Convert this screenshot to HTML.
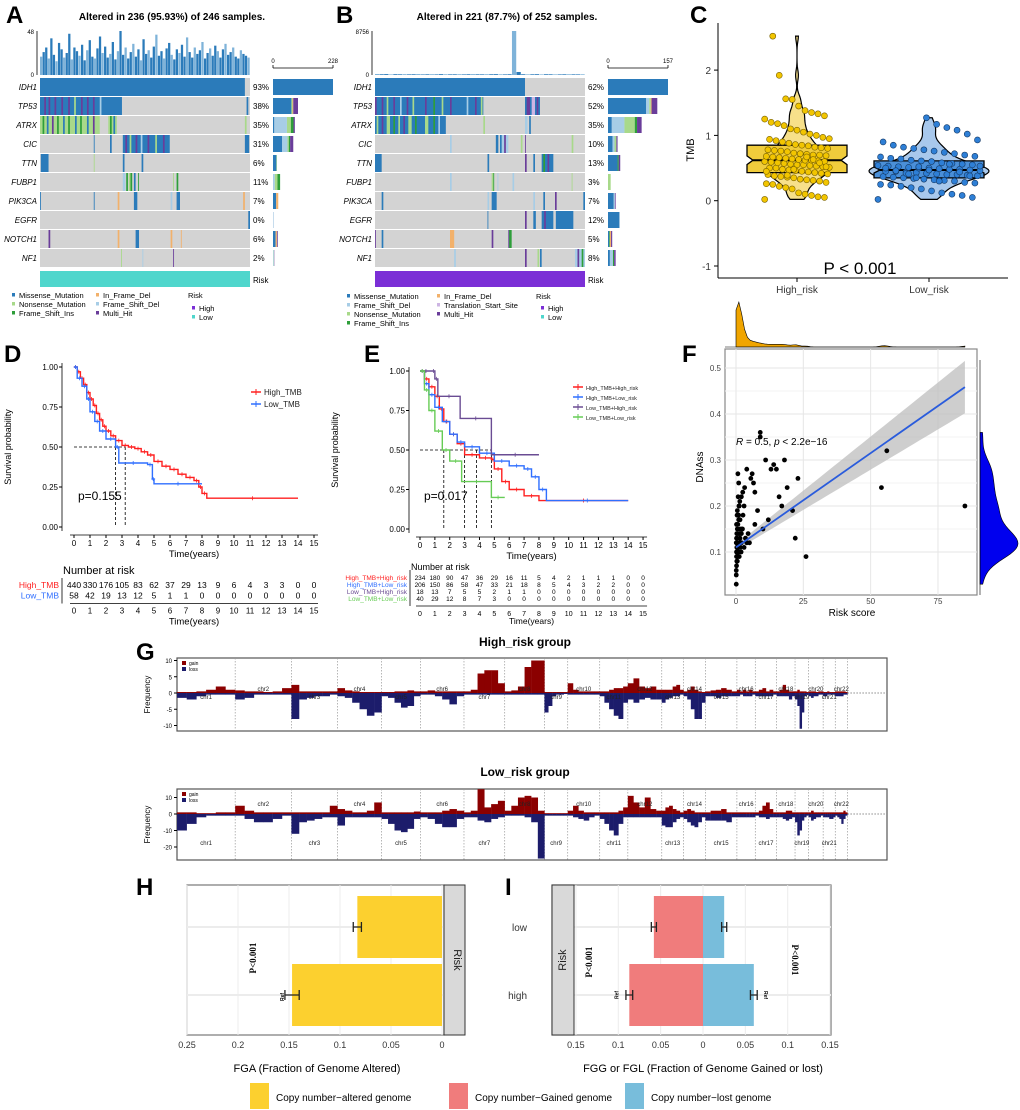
<!DOCTYPE html>
<html><head><meta charset="utf-8">
<style>
html,body{margin:0;padding:0;background:#fff;}
svg{display:block;font-family:"Liberation Sans",Arial,sans-serif;}
</style></head>
<body>
<svg id="fig" width="1020" height="1110" viewBox="0 0 1020 1110" xmlns="http://www.w3.org/2000/svg"></svg>
<script>
// ================= DATA =================
const genes=['IDH1','TP53','ATRX','CIC','TTN','FUBP1','PIK3CA','EGFR','NOTCH1','NF1'];
const pctA=['93%','38%','35%','31%','6%','11%','7%','0%','6%','2%'];
const pctB=['62%','52%','35%','10%','13%','3%','7%','12%','5%','8%'];
const topA=[20,25,30,18,40,22,15,35,28,19,24,45,17,30,26,21,33,16,27,38,20,18,29,42,24,31,19,23,36,17,26,48,22,30,18,25,34,20,28,16,39,23,27,19,31,44,21,26,18,29,35,22,17,28,24,33,20,41,25,19,30,23,27,36,18,24,29,21,32,26,19,28,34,22,25,30,20,18,27,23,21,19];
const topB=[200,150,180,120,160,140,170,130,150,190,110,140,160,120,170,150,130,140,160,120,150,180,140,130,160,150,170,140,120,150,8756,600,150,130,140,160,120,150,140,130,120,140,150,130,120,140];
const segsA=[
 [[0,240,'M']],
 [[0,96,'M'],[5,7,'H'],[10,12,'H'],[17,19,'H'],[25,27,'H'],[33,35,'H'],[40,42,'N'],[48,50,'H'],[55,57,'H'],[62,64,'H'],[70,72,'D'],[242,244,'M']],
 [[0,70,'N'],[3,5,'I'],[8,10,'M'],[14,16,'H'],[20,22,'I'],[27,29,'M'],[33,35,'I'],[41,43,'M'],[47,49,'I'],[55,57,'M'],[62,64,'H'],[80,90,'N'],[82,84,'I'],[86,88,'M'],[240,242,'N']],
 [[63,64,'M'],[82,84,'M'],[97,152,'M'],[100,102,'H'],[105,107,'N'],[112,114,'H'],[118,120,'D'],[126,128,'H'],[135,137,'N'],[144,146,'H'],[240,245,'M']],
 [[1,10,'M'],[63,64,'N'],[97,99,'M'],[119,121,'M']],
 [[97,100,'D'],[101,103,'I'],[104,106,'N'],[106,108,'I'],[110,112,'M'],[115,116,'I'],[156,157,'N'],[160,162,'I']],
 [[0,1,'M'],[63,64,'M'],[91,93,'F'],[110,114,'M'],[153,155,'D'],[160,164,'M'],[238,240,'F']],
 [[244,246,'M']],
 [[10,12,'H'],[91,93,'F'],[112,116,'M'],[153,155,'F'],[165,166,'F']],
 [[95,96,'N'],[120,121,'D'],[156,157,'H']]
];
const segsB=[
 [[0,180,'M']],
 [[0,130,'M'],[0,2,'H'],[8,10,'H'],[14,16,'N'],[22,24,'H'],[30,32,'D'],[38,40,'H'],[45,47,'N'],[60,62,'H'],[70,72,'I'],[80,82,'N'],[90,92,'H'],[110,112,'D'],[120,122,'H'],[127,129,'N'],[180,198,'M'],[182,186,'H'],[188,192,'T'],[194,196,'H']],
 [[0,85,'M'],[2,4,'N'],[8,10,'H'],[14,18,'N'],[22,24,'I'],[28,30,'N'],[34,36,'H'],[40,44,'N'],[48,50,'I'],[60,64,'N'],[70,72,'I'],[76,78,'D'],[130,132,'N'],[180,183,'D'],[185,187,'M']],
 [[90,92,'D'],[145,148,'M'],[150,160,'D'],[150,152,'M'],[155,157,'H'],[175,177,'N'],[180,181,'H'],[236,238,'N']],
 [[0,8,'M'],[135,137,'M'],[180,182,'H'],[190,192,'M'],[200,214,'M'],[202,204,'I'],[207,209,'H']],
 [[90,92,'D'],[140,142,'N'],[142,143,'I'],[147,148,'D'],[165,167,'D'],[236,237,'N']],
 [[8,10,'M'],[135,137,'D'],[140,146,'M'],[190,192,'D'],[202,204,'M'],[216,218,'H'],[250,252,'M']],
 [[135,136,'M'],[180,182,'H'],[190,193,'M'],[200,214,'M'],[203,205,'H'],[217,238,'M']],
 [[0,1,'H'],[8,10,'M'],[90,95,'F'],[140,142,'H'],[160,162,'H'],[161,164,'I']],
 [[95,97,'D'],[180,182,'H'],[195,197,'N'],[198,200,'M'],[240,252,'D'],[243,245,'H'],[248,250,'I']]
];
const cntA=[{M:228},{M:70,N:4,F:3,H:18},{M:5,N:15,I:10,D:48,H:5},{M:35,I:5,N:5,D:20,H:12},{M:13,N:2},{N:10,I:10,D:7},{M:12,F:8},{M:1},{M:10,F:5,H:3},{D:3,N:1,H:1}];
const cntB=[{M:157},{M:100,D:8,N:4,F:2,H:15},{M:10,D:33,N:27,I:6,H:12},{M:12,D:5,N:5,H:3},{M:25,I:3,H:4},{N:7},{M:15,D:3,H:2},{M:30},{H:3,F:3,I:2,M:3},{D:8,M:5,I:3,H:4}];

const tmbHigh=[0.02,0.05,0.06,0.08,0.1,0.12,0.18,0.2,0.22,0.25,0.26,0.28,0.3,0.31,0.32,0.33,0.35,0.36,0.37,0.38,0.4,0.41,0.42,0.43,0.44,0.45,0.46,0.47,0.48,0.5,0.5,0.51,0.52,0.53,0.54,0.55,0.55,0.56,0.57,0.58,0.59,0.6,0.6,0.61,0.62,0.62,0.63,0.64,0.65,0.66,0.67,0.68,0.69,0.7,0.7,0.71,0.72,0.73,0.75,0.76,0.77,0.78,0.8,0.81,0.82,0.84,0.85,0.86,0.88,0.9,0.92,0.94,0.95,0.97,1.0,1.02,1.05,1.08,1.1,1.15,1.18,1.2,1.25,1.3,1.33,1.35,1.38,1.45,1.55,1.56,1.92,2.52,0.45,0.52,0.58,0.63,0.67,0.72,0.48,0.39];
const tmbLow=[0.02,0.05,0.08,0.1,0.12,0.15,0.18,0.2,0.22,0.24,0.25,0.27,0.28,0.3,0.31,0.32,0.33,0.34,0.35,0.36,0.37,0.38,0.39,0.4,0.4,0.41,0.42,0.43,0.44,0.45,0.45,0.46,0.47,0.48,0.48,0.49,0.5,0.5,0.51,0.52,0.53,0.54,0.55,0.56,0.57,0.58,0.6,0.61,0.62,0.64,0.65,0.67,0.68,0.7,0.72,0.74,0.76,0.78,0.8,0.82,0.85,0.9,0.93,1.02,1.08,1.12,1.17,1.27,0.35,0.42,0.46,0.5,0.53,0.38,0.44,0.56,0.3,0.47,0.52,0.41];

const dHighT=[0,0.2,0.4,0.6,0.8,1.0,1.2,1.4,1.6,1.8,2.0,2.3,2.6,3.0,3.4,3.8,4.2,4.6,5.0,5.5,6.0,6.5,7.0,7.5,7.8,8.0,8.3,14];
const dHighS=[1,0.97,0.93,0.89,0.84,0.8,0.76,0.71,0.67,0.63,0.6,0.57,0.54,0.51,0.5,0.49,0.47,0.45,0.41,0.38,0.36,0.33,0.31,0.29,0.25,0.21,0.18,0.18];
const dLowT=[0,0.2,0.5,0.8,1.0,1.3,1.6,2.0,2.6,2.8,4.6,4.9,5.0,8.0];
const dLowS=[1,0.93,0.88,0.8,0.72,0.66,0.6,0.55,0.5,0.4,0.39,0.3,0.27,0.27];
const dRiskHigh=[440,330,176,105,83,62,37,29,13,9,6,4,3,3,0,0];
const dRiskLow=[58,42,19,13,12,5,1,1,0,0,0,0,0,0,0,0];

const eRedT=[0,0.3,0.6,1.0,1.3,1.6,2.0,2.5,3.0,4.0,4.8,5.0,5.5,6.0,7.0,8.0,14];
const eRedS=[1,0.95,0.9,0.84,0.76,0.68,0.6,0.54,0.47,0.45,0.44,0.38,0.3,0.25,0.21,0.18,0.18];
const eBlueT=[0,0.3,0.6,1.0,1.5,2.0,2.5,3.0,4.0,5.0,6.0,7.0,7.5,8.0,8.5,14];
const eBlueS=[1,0.92,0.85,0.77,0.68,0.6,0.55,0.52,0.48,0.43,0.4,0.38,0.33,0.25,0.18,0.18];
const ePurpT=[0,0.8,1.0,1.2,2.7,4.8,8.0];
const ePurpS=[1,1,0.95,0.84,0.7,0.47,0.47];
const eGreenT=[0,0.3,0.6,1.0,1.5,2.0,2.8,4.8,5.7];
const eGreenS=[1,0.88,0.75,0.62,0.5,0.43,0.3,0.2,0.2];
const eRisk=[[234,180,90,47,36,29,16,11,5,4,2,1,1,1,0,0],[206,150,86,58,47,33,21,18,8,5,4,3,2,2,0,0],[18,13,7,5,5,2,1,1,0,0,0,0,0,0,0,0],[40,29,12,8,7,3,0,0,0,0,0,0,0,0,0,0]];

const riskScore=[0.1,0.2,0.3,0.4,0.5,0.6,0.8,1.0,1.2,1.5,0.1,0.2,0.3,0.4,0.5,0.7,0.9,1.1,1.3,1.6,0.1,0.2,0.3,0.5,0.6,0.8,1.0,1.4,1.8,2.2,0.2,0.3,0.4,0.6,0.7,0.9,1.2,1.6,2.0,2.6,0.1,0.3,0.5,0.8,1.1,1.5,2.0,2.5,3.0,3.5,0.2,0.4,0.7,1.0,1.4,1.9,2.4,3.2,4.0,4.5,5,5.5,6,6.5,7,8,9,10,11,12,13,14,15,16,17,18,19,21,22,23,9,26,54,56,85,4,3,2,1,7];
const dnass=[0.05,0.07,0.08,0.09,0.1,0.11,0.12,0.1,0.09,0.13,0.12,0.13,0.14,0.11,0.15,0.16,0.1,0.12,0.14,0.11,0.06,0.09,0.1,0.08,0.12,0.14,0.17,0.13,0.12,0.15,0.1,0.11,0.12,0.09,0.1,0.11,0.2,0.15,0.12,0.18,0.03,0.13,0.19,0.22,0.2,0.17,0.14,0.23,0.11,0.13,0.16,0.18,0.27,0.25,0.21,0.1,0.15,0.24,0.28,0.14,0.12,0.26,0.27,0.25,0.23,0.19,0.36,0.15,0.3,0.17,0.28,0.29,0.28,0.22,0.2,0.3,0.24,0.19,0.13,0.26,0.35,0.09,0.24,0.32,0.2,0.12,0.2,0.22,0.18,0.16];
const fitCoef=[0.11,0.0041];

const gainHigh=[[0.3,0.3,0.5,1,2,1],[0.8,0.5,0.5,0.3,0.5,1.5],[2.5,0.5,0.5,0.5,0.5,0.5],[1.5,0.8,0.5,0.3,0.3,0.3],[0.3,0.3,0.5,0.5,0.8,0.5],[0.5,0.8,0.5,0.5,0.5,0.5],[0.5,1,6,7,7,3],[0.5,0.8,2,8,10,10],[0.3,0.3,0.3,0.3,0.3,0.3],[3,1,0.5,0.5,0.5,0.5],[0.5,0.5,1,1.5,1.5,2],[3,4.5,2,1.5,2,1],[1,1,1,2,2.5,1],[0.5,1,2,1,0.5,0.3],[0.5,0.8,1,1.5,1,0.5],[1,0.5,1,0.5,1,0.5],[0.5,1,1.5,0.5,1,0.5],[0.5,1,2.5,1,0.5,0.5],[0.5,1,0.5,0.5,0.5,0.3],[0.5,0.5,0.5,0.3,0.5,0.5],[0.3,0.3,0.5,0.3,0.3,0.3],[0.5,0.5,0.5,0.5,0.5,0.3]];
const lossHigh=[[1.5,2,1,0.5,0.5,0.5],[2,1.5,0.5,0.5,0.5,0.5],[8,2,1.5,1,1,0.5],[1,1.5,3,5,7,6],[1,1.5,3,4.5,4,1],[0.5,0.5,1,2,3.5,1],[0.5,0.5,0.5,0.5,0.5,0.5],[0.5,0.5,0.5,0.5,0.5,0.5],[6,4,1,0.5,0.5,0.3],[0.5,0.5,0.5,0.5,0.5,0.5],[1,3,5,7,8,3],[2,3,2,1.5,2,2],[3,2,1.5,1,1,0.5],[1,2,5,8,8,3],[1,1,1.5,1,1,1],[1,0.5,1,1,1,0.5],[1,1,1,1,1,0.5],[1,1,1,1,2,1],[2,4,11,6,1,0.5],[1,1.5,1,1,0.5,0.5],[1,1,0.5,0.5,0.5,0.5],[1,1,1,1,0.5,0.5]];
const gainLow=[[1,1,0.5,0.5,1,1],[5,2,1,1,1,1],[1,1,1,1,1,5],[3,2,1,1,2,7],[1,1,1,1,1,1.5],[1,1,1,2,3,2],[1,2,15,4,6,8],[2,5,10,11,10,2],[0.5,0.5,0.5,0.5,0.5,0.5],[2,5,2,1,1,1],[1,1,1,1,2,4],[11,7,4,10,3,2],[2,4,5,3,2,1],[2,3,2,1,1,1],[1,2,2,3,1,1],[1,1,1,1,1,1],[1,2,5,7,3,1],[1,1,1,2,2,1],[1,1,1,1,1,1],[1,2,1,1,1,1],[1,1,1,1,1,1],[1,1,1,1,2,1]];
const lossLow=[[10,6,2,1,1,1],[1,3,5,5,3,1],[12,5,4,3,2,2],[7,2,2,2,2,2],[3,6,10,11,9,3],[2,3,6,8,8,3],[2,2,4,5,3,2],[1,1,1,2,5,27],[1,1,1,1,1,1],[1,2,3,4,2,1],[3,6,10,13,6,2],[2,2,2,2,2,2],[7,8,8,5,3,2],[3,5,7,8,5,2],[4,4,4,4,5,2],[2,2,2,2,2,2],[1,2,2,3,2,2],[2,2,3,4,3,2],[5,13,10,4,2,1],[2,4,3,2,2,1],[2,2,2,3,3,2],[1,2,3,6,3,1]];

const riskGroups=['low','high'];
const fgaVal=[0.083,0.147];
const fgaErr=[0.004,0.007];
const fggVal=[0.058,0.087];
const fglVal=[0.025,0.060];
const fgErr=[0.003,0.004];

// ================= HELPERS =================
const NS='http://www.w3.org/2000/svg';
const svg=document.getElementById('fig');
function mk(tag,attrs,parent){const e=document.createElementNS(NS,tag);for(const k in attrs)e.setAttribute(k,attrs[k]);(parent||svg).appendChild(e);return e;}
function txt(x,y,s,attrs,parent){const e=mk('text',Object.assign({x:x,y:y},attrs||{}),parent);e.textContent=s;return e;}
function grp(name){const g=mk('g',{});return g;}
const COL={M:'#2b7bba',N:'#a8d98a',I:'#2e9e3a',F:'#f2b16b',D:'#a7cde6',H:'#6a3d9a',T:'#cdb5e3'};

function label(ch,x,y){const t=txt(x,y,ch,{'font-size':24,'font-weight':'bold'});}

// ================= ONCOPRINT =================
function onco(key,x0,x1,n,segs,pcts,cnts,maxC,bx0,bx1,topVals,topMax,topLabel,title,titleX,riskCol,legend){
  const g=grp('oncoplot-'+key);
  const w=x1-x0;
  const tt=txt(titleX,20,title,{'font-size':10,'font-weight':'bold','text-anchor':'middle'},g);
  
  mk('line',{x1:x0-3,y1:31,x2:x0-3,y2:75,stroke:'#000','stroke-width':0.8},g);
  txt(x0-6,34,topLabel,{'font-size':6,'text-anchor':'end'},g);
  txt(x0-6,77,'0',{'font-size':6,'text-anchor':'end'},g);
  const bw=w/topVals.length;
  topVals.forEach((v,i)=>{
    const h=Math.min(v/topMax,1)*44;
    const b=mk('rect',{x:x0+i*bw,y:75-h,width:Math.max(bw-0.3,0.6),height:Math.max(h,0.3),fill:i%3==0?'#7fb3d9':'#2b7bba'},g);
    
    
  });
  genes.forEach((gn,r)=>{
    const y=78+r*19;
    mk('rect',{x:x0,y:y,width:w,height:18,fill:'#d3d3d3'},g);
    segs[r].forEach(s=>{
      const sr=mk('rect',{x:x0+s[0]*w/n,y:y,width:Math.max((s[1]-s[0])*w/n,0.8),height:18,fill:COL[s[2]]},g);
      
      
    });
    const gl=txt(x0-3,y+12,gn,{'font-size':8,'font-style':'italic','text-anchor':'end'},g);
    
    txt(x1+3,y+12,pcts[r],{'font-size':8},g);
    let cx=bx0;const bs=(bx1-bx0)/maxC;
    ['M','D','N','I','F','T','H'].forEach(k=>{
      if(cnts[r][k]){const rb=mk('rect',{x:cx,y:y+1,width:cnts[r][k]*bs,height:16,fill:COL[k]},g);
        
        
        cx+=cnts[r][k]*bs;}
    });
  });
  mk('line',{x1:bx0,y1:68,x2:bx1,y2:68,stroke:'#000','stroke-width':0.8},g);
  mk('line',{x1:bx0,y1:65,x2:bx0,y2:68,stroke:'#000','stroke-width':0.8},g);
  mk('line',{x1:bx1,y1:65,x2:bx1,y2:68,stroke:'#000','stroke-width':0.8},g);
  txt(bx0,63,'0',{'font-size':6,'text-anchor':'middle'},g);
  txt(bx1,63,String(maxC),{'font-size':6,'text-anchor':'middle'},g);
  const rk=mk('rect',{x:x0,y:271,width:w,height:16,fill:riskCol},g);
  
  
  txt(x1+3,283,'Risk',{'font-size':8},g);
  legend.forEach(it=>{
    mk('rect',{x:it[0],y:it[1]-5,width:3,height:3.5,fill:it[3]},g);
    const lt=txt(it[0]+7,it[1],it[2],{'font-size':7.5},g);
    
  });
}
label('A',6,23);
onco('a',40,250,246,segsA,pctA,cntA,228,273,333,topA,48,'48','Altered in 236 (95.93%) of 246 samples.',172,'#4fd6cc',
 [[12,298,'Missense_Mutation',COL.M],[12,307,'Nonsense_Mutation',COL.N],[12,316,'Frame_Shift_Ins',COL.I],[96,298,'In_Frame_Del',COL.F],[96,307,'Frame_Shift_Del',COL.D],[96,316,'Multi_Hit',COL.H],[192,311,'High','#7b2fd6'],[192,320,'Low','#4fd6cc']]);
txt(188,298,'Risk',{'font-size':7.5});
label('B',336,23);
onco('b',375,585,252,segsB,pctB,cntB,157,608,668,topB,8756,'8756','Altered in 221 (87.7%) of 252 samples.',507,'#7b2fd6',
 [[347,299,'Missense_Mutation',COL.M],[347,308,'Frame_Shift_Del',COL.D],[347,317,'Nonsense_Mutation',COL.N],[347,326,'Frame_Shift_Ins',COL.I],[437,299,'In_Frame_Del',COL.F],[437,308,'Translation_Start_Site',COL.T],[437,317,'Multi_Hit',COL.H],[541,311,'High','#7b2fd6'],[541,320,'Low','#4fd6cc']]);
txt(536,299,'Risk',{'font-size':7.5});

// ================= PANEL C =================
label('C',690,23);
(function(){
  const g=grp('tmb-violin-plot');
  const yv=v=>200.7-v*65.3;
  mk('line',{x1:718,y1:23,x2:718,y2:278,stroke:'#000','stroke-width':1},g);
  mk('line',{x1:718,y1:278,x2:1008,y2:278,stroke:'#000','stroke-width':1},g);
  [2,1,0,-1].forEach(t=>{mk('line',{x1:714,y1:yv(t),x2:718,y2:yv(t),stroke:'#000'},g);txt(711,yv(t)+4,String(t),{'font-size':10,'text-anchor':'end',fill:'#333'},g);});
  const yt=txt(694,150,'TMB',{'font-size':11,'text-anchor':'middle',transform:'rotate(-90 694 150)'},g);
  
  const groups=[{name:'High_risk',cx:797,d:tmbHigh,vf:'#f7e08a',bf:'#f0cc3c',pf:'#f2c500',ps:'#7a6200',bw:50,vw:38},
                {name:'Low_risk',cx:929,d:tmbLow,vf:'#a8c8ec',bf:'#4a8fd8',pf:'#2e7fd6',ps:'#153a66',bw:55,vw:60}];
  groups.forEach((G,gi)=>{
    mk('line',{x1:G.cx,y1:278,x2:G.cx,y2:282,stroke:'#000'},g);
    const xl=txt(G.cx,293,G.name,{'font-size':10,'text-anchor':'middle',fill:'#333'},g);
    
    const s=G.d.slice().sort((a,b)=>a-b);const q=p=>s[Math.floor(p*(s.length-1))];
    const lo=s[0],hi=s[s.length-1],bwd=0.08,pts=[];let mx=0;
    for(let i=0;i<=60;i++){const v=lo+(hi-lo)*i/60;let d=0;s.forEach(x=>{d+=Math.exp(-0.5*((v-x)/bwd)**2);});pts.push([v,d]);mx=Math.max(mx,d);}
    let p='';pts.forEach((a,i)=>{p+=(i?'L':'M')+(G.cx+a[1]/mx*G.vw)+','+yv(a[0]);});
    for(let i=pts.length-1;i>=0;i--)p+='L'+(G.cx-pts[i][1]/mx*G.vw)+','+yv(pts[i][0]);
    const vi=mk('path',{d:p+'Z',fill:G.vf,stroke:'#000','stroke-width':1.2},g);
    
    
    const q1=q(0.25),q3=q(0.75),md=q(0.5),L=G.cx-G.bw,R=G.cx+G.bw,nt=6,nh=Math.max(1.58*(q3-q1)/Math.sqrt(s.length),0.03);
    const bp=`M${L},${yv(q3)}L${R},${yv(q3)}L${R},${yv(md+nh)}L${R-nt},${yv(md)}L${R},${yv(md-nh)}L${R},${yv(q1)}L${L},${yv(q1)}L${L},${yv(md-nh)}L${L+nt},${yv(md)}L${L},${yv(md+nh)}Z`;
    const bx=mk('path',{d:bp,fill:G.bf,stroke:'#000','stroke-width':1.3},g);
    
    
    mk('line',{x1:L+nt,y1:yv(md),x2:R-nt,y2:yv(md),stroke:'#000','stroke-width':2},g);
    G.d.forEach((v,i)=>{
      const jx=((i*37)%41-20)/20*(G.vw*0.85);
      const c=mk('circle',{cx:G.cx+jx,cy:yv(v),r:3,fill:G.pf,stroke:G.ps,'stroke-width':0.6},g);
      
      
    });
  });
  const pt=txt(860,274,'P < 0.001',{'font-size':17,'text-anchor':'middle'},g);
  
})();

// ================= KM =================
function km(key,x0,xs,y0,ys,axisX,axisY,series,legend,nar,narLabelX,narRowY,narFont,medLines,pText,pX,pY,ylabX){
  const g=grp('km-plot-'+key);
  const X=t=>x0+t*xs, Y=s=>y0-s*ys;
  mk('line',{x1:axisX,y1:Y(1)-4,x2:axisX,y2:Y(0)+4,stroke:'#000','stroke-width':0.8},g);
  mk('line',{x1:X(0)-4,y1:axisY,x2:X(15)+4,y2:axisY,stroke:'#000','stroke-width':0.8},g);
  [0,0.25,0.5,0.75,1].forEach(s=>{mk('line',{x1:axisX-3,y1:Y(s),x2:axisX,y2:Y(s),stroke:'#000'},g);txt(axisX-4,Y(s)+3,s.toFixed(2),{'font-size':8,'text-anchor':'end'},g);});
  for(let t=0;t<=15;t++){mk('line',{x1:X(t),y1:axisY,x2:X(t),y2:axisY+3,stroke:'#000'},g);txt(X(t),axisY+11,String(t),{'font-size':8,'text-anchor':'middle'},g);}
  txt((X(0)+X(15))/2,axisY+22,'Time(years)',{'font-size':9.5,'text-anchor':'middle'},g);
  const yl=txt(ylabX,Y(0.5),'Survival probability',{'font-size':9,'text-anchor':'middle',transform:`rotate(-90 ${ylabX} ${Y(0.5)})`},g);
  
  medLines.forEach(m=>{mk('line',{x1:X(m),y1:Y(0.5),x2:X(m),y2:Y(0),stroke:'#000','stroke-dasharray':'3,2','stroke-width':0.8},g);});
  mk('line',{x1:X(0),y1:Y(0.5),x2:X(Math.max(...medLines)),y2:Y(0.5),stroke:'#000','stroke-dasharray':'3,2','stroke-width':0.8},g);
  series.forEach(S=>{
    let d='M'+X(S.t[0])+','+Y(S.s[0]);
    for(let i=1;i<S.t.length;i++){d+='H'+X(S.t[i])+'V'+Y(S.s[i]);}
    const pth=mk('path',{d:d,fill:'none',stroke:S.c,'stroke-width':1.4},g);
    
    
    for(let i=1;i<S.t.length;i++){const tm=(S.t[i-1]+S.t[i])/2;const sy=Y(S.s[i-1]);
      mk('path',{d:`M${X(tm)-2},${sy}h4M${X(tm)},${sy-2}v4`,stroke:S.c,'stroke-width':0.8},g);}
  });
  legend.forEach(L=>{
    mk('line',{x1:L.x,y1:L.y-3,x2:L.x+10,y2:L.y-3,stroke:L.c,'stroke-width':1.5},g);
    mk('path',{d:`M${L.x+5},${L.y-6}v6`,stroke:L.c,'stroke-width':1},g);
    const le=txt(L.x+13,L.y,L.n,{'font-size':L.f,fill:'#222'},g);
    
  });
  txt(pX,pY,pText,{'font-size':12},g);
  const nr=grp('number-at-risk-'+key);
  txt(narLabelX+4,narRowY[0]-(narFont>7?14:10),'Number at risk',{'font-size':narFont>7?11:9},nr);
  nar.forEach((row,r)=>{
    txt(narLabelX,narRowY[0]+r*(narRowY[1]),row.n,{'font-size':narFont,'text-anchor':'end',fill:row.c},nr);
    row.v.forEach((v,t)=>{txt(X(t),narRowY[0]+r*narRowY[1],String(v),{'font-size':narFont,'text-anchor':'middle'},nr);});
  });
  const ay=narRowY[0]+(nar.length-1)*narRowY[1]+5;
  mk('line',{x1:narLabelX+3,y1:narRowY[0]-10,x2:narLabelX+3,y2:ay,stroke:'#000','stroke-width':0.8},nr);
  mk('line',{x1:X(0)-4,y1:ay,x2:X(15)+4,y2:ay,stroke:'#000','stroke-width':0.8},nr);
  for(let t=0;t<=15;t++){txt(X(t),ay+10,String(t),{'font-size':narFont>7?8:7,'text-anchor':'middle'},nr);}
  txt((X(0)+X(15))/2,ay+(narFont>7?21:18),'Time(years)',{'font-size':narFont>7?9.5:8.5,'text-anchor':'middle'},nr);
}
label('D',4,362);
km('d',74,16,527,160,62,535,
 [{n:'High_TMB',t:dHighT,s:dHighS,c:'#ff2020'},{n:'Low_TMB',t:dLowT,s:dLowS,c:'#2f6fff'}],
 [{x:251,y:395,n:'High_TMB',c:'#ff2020',f:8},{x:251,y:407,n:'Low_TMB',c:'#2f6fff',f:8}],
 [{n:'High_TMB',c:'#ff2020',v:dRiskHigh},{n:'Low_TMB',c:'#2f6fff',v:dRiskLow}],59,[588,10.5],8.5,[2.6,3.2],'p=0.155',78,500,11);
label('E',364,362);
km('e',420,14.87,529,158,409,537,
 [{n:'High_TMB+High_risk',t:eRedT,s:eRedS,c:'#ff2020'},{n:'High_TMB+Low_risk',t:eBlueT,s:eBlueS,c:'#2f6fff'},{n:'Low_TMB+High_risk',t:ePurpT,s:ePurpS,c:'#6a4c93'},{n:'Low_TMB+Low_risk',t:eGreenT,s:eGreenS,c:'#66cc55'}],
 [{x:573,y:390,n:'High_TMB+High_risk',c:'#ff2020',f:5.5},{x:573,y:400,n:'High_TMB+Low_risk',c:'#2f6fff',f:5.5},{x:573,y:410,n:'Low_TMB+High_risk',c:'#6a4c93',f:5.5},{x:573,y:420,n:'Low_TMB+Low_risk',c:'#66cc55',f:5.5}],
 [{n:'High_TMB+High_risk',c:'#ff2020',v:eRisk[0]},{n:'High_TMB+Low_risk',c:'#2f6fff',v:eRisk[1]},{n:'Low_TMB+High_risk',c:'#6a4c93',v:eRisk[2]},{n:'Low_TMB+Low_risk',c:'#66cc55',v:eRisk[3]}],
 407,[580,7],6.5,[1.6,3.0,3.8,4.8],'p=0.017',424,500,338);

// ================= PANEL F =================
label('F',682,362);
(function(){
  const g=grp('scatter-dnass-risk');
  const X=v=>736+v*2.693, Y=v=>552-(v-0.1)*460;
  mk('rect',{x:725,y:349,width:252,height:246,fill:'#fff',stroke:'#888','stroke-width':1.2},g);
  [0.1,0.2,0.3,0.4,0.5].forEach(v=>{mk('line',{x1:725,y1:Y(v),x2:977,y2:Y(v),stroke:'#e6e6e6'},g);txt(721,Y(v)+3,String(v),{'font-size':8,'text-anchor':'end',fill:'#444'},g);});
  [0.15,0.25,0.35,0.45].forEach(v=>mk('line',{x1:725,y1:Y(v),x2:977,y2:Y(v),stroke:'#f3f3f3'},g));
  [0,25,50,75].forEach(v=>{mk('line',{x1:X(v),y1:349,x2:X(v),y2:595,stroke:'#e6e6e6'},g);txt(X(v),604,String(v),{'font-size':8,'text-anchor':'middle',fill:'#444'},g);});
  const xt=txt(852,616,'Risk score',{'font-size':10,'text-anchor':'middle'},g);
  
  const yt=txt(703,467,'DNAss',{'font-size':10,'text-anchor':'middle',transform:'rotate(-90 703 467)'},g);
  
  const xmax=Math.max(...riskScore);
  const f=v=>fitCoef[0]+fitCoef[1]*v;
  const band=v=>0.006+0.0006*v;
  let bp='';for(let i=0;i<=40;i++){const v=xmax*i/40;bp+=(i?'L':'M')+X(v)+','+Y(f(v)+band(v));}
  for(let i=40;i>=0;i--){const v=xmax*i/40;bp+='L'+X(v)+','+Y(f(v)-band(v));}
  const bd=mk('path',{d:bp+'Z',fill:'#bdbdbd','fill-opacity':0.75},g);
  
  riskScore.forEach((r,i)=>{const c=mk('circle',{cx:X(r),cy:Y(dnass[i]),r:2.4,fill:'#000'},g);
    
    });
  const ln=mk('line',{x1:X(0),y1:Y(f(0)),x2:X(xmax),y2:Y(f(xmax)),stroke:'#2a5cdc','stroke-width':1.8},g);
  
  
  const rt=txt(736,445,'',{'font-size':10},g);rt.innerHTML='<tspan font-style="italic">R</tspan> = 0.5, <tspan font-style="italic">p</tspan> &lt; 2.2e−16';
  let mx=0;const td=[];for(let i=0;i<=80;i++){const v=xmax*i/80;let d=0;riskScore.forEach(x=>d+=Math.exp(-0.5*((v-x)/1.2)**2));td.push([v,d]);mx=Math.max(mx,d);}
  let p='M'+X(0)+',347';td.forEach(a=>p+='L'+X(a[0])+','+(347-a[1]/mx*45));p+='L'+X(xmax)+',347Z';
  const tdp=mk('path',{d:p,fill:'#f0a500',stroke:'#000','stroke-width':0.6},g);
  
  mk('line',{x1:725,y1:347,x2:965,y2:347,stroke:'#000','stroke-width':0.6},g);
  mx=0;const rd=[];const dmin=Math.min(...dnass),dmax=Math.max(...dnass);for(let i=0;i<=60;i++){const v=dmin+(dmax-dmin)*i/60;let d=0;dnass.forEach(x=>d+=Math.exp(-0.5*((v-x)/0.02)**2));rd.push([v,d]);mx=Math.max(mx,d);}
  p='M980,'+Y(dmin);rd.forEach(a=>p+='L'+(980+a[1]/mx*38)+','+Y(a[0]));p+='L980,'+Y(dmax)+'Z';
  const rdp=mk('path',{d:p,fill:'#0000ee',stroke:'#000','stroke-width':0.6},g);
  
  mk('line',{x1:980,y1:360,x2:980,y2:595,stroke:'#000','stroke-width':0.6},g);
})();

// ================= PANEL G =================
label('G',136,660);
const chrEdgesZ=[97,217,333,428,519,599,689,773,855,903,969,1027,1097,1142,1187,1252,1290,1334,1372,1400,1430,1455,1480];
function cnv(key,title,titleY,top,bot,zero,unit,gain,loss,ticks,labelY1,labelY2){
  const g=grp('cnv-plot-'+key);
  const ex=chrEdgesZ.map(z=>130+z/2.063);
  const tt=txt(525,titleY,title,{'font-size':12,'font-weight':'bold','text-anchor':'middle'},g);
  
  mk('rect',{x:177,y:top,width:710,height:bot-top,fill:'#fff',stroke:'#555','stroke-width':1.2},g);
  ex.forEach((x,i)=>{if(i>0)mk('line',{x1:x,y1:top,x2:x,y2:bot,stroke:'#999','stroke-dasharray':'1.5,1.5','stroke-width':0.7},g);});
  mk('line',{x1:ex[ex.length-1],y1:zero,x2:887,y2:zero,stroke:'#666','stroke-dasharray':'1.5,1.5','stroke-width':0.7},g);
  for(let c=0;c<22;c++){
    const bw=(ex[c+1]-ex[c])/6;
    for(let b=0;b<6;b++){
      const gv=gain[c][b],lv=loss[c][b];
      const gr=mk('rect',{x:ex[c]+b*bw,y:zero-gv*unit,width:bw+0.2,height:gv*unit,fill:'#8b0000'},g);
      
      
      const lr=mk('rect',{x:ex[c]+b*bw,y:zero,width:bw+0.2,height:lv*unit,fill:'#1c1c6b'},g);
      
      
    }
    const lx=(ex[c]+ex[c+1])/2;
    txt(lx,c%2?labelY1:labelY2,'chr'+(c+1),{'font-size':6,'text-anchor':'middle',fill:'#222'},g);
  }
  ticks.forEach(t=>{mk('line',{x1:174,y1:zero-t*unit,x2:177,y2:zero-t*unit,stroke:'#000'},g);txt(172,zero-t*unit+2.5,String(t),{'font-size':6,'text-anchor':'end'},g);});
  const yl=txt(150,(top+bot)/2,'Frequency',{'font-size':8,'text-anchor':'middle',transform:`rotate(-90 150 ${(top+bot)/2})`},g);
  
  mk('rect',{x:182,y:top+3,width:4,height:4,fill:'#8b0000'},g);txt(189,top+7,'gain',{'font-size':5},g);
  mk('rect',{x:182,y:top+9,width:4,height:4,fill:'#1c1c6b'},g);txt(189,top+13,'loss',{'font-size':5},g);
}
cnv('high','High_risk group',646,658,731,693,3.25,gainHigh,lossHigh,[10,5,0,-5,-10],691,699);
cnv('low','Low_risk group',776,789,860,814,1.65,gainLow,lossLow,[10,0,-10,-20],806,845);

// ================= PANEL H =================
label('H',136,895);
(function(){
  const g=grp('fga-bar-chart');
  const X=v=>442-v*1020; const rowY=[927,995];
  mk('rect',{x:187,y:885,width:257,height:150,fill:'#fff',stroke:'#777','stroke-width':1.2},g);
  [0.25,0.2,0.15,0.1,0.05,0].forEach(v=>{mk('line',{x1:X(v),y1:885,x2:X(v),y2:1035,stroke:'#ececec'},g);
    txt(X(v),1048,String(v),{'font-size':9,'text-anchor':'middle',fill:'#333'},g);});
  rowY.forEach(y=>mk('line',{x1:187,y1:y,x2:444,y2:y,stroke:'#ececec','stroke-width':2},g));
  riskGroups.forEach((r,i)=>{
    const b=mk('rect',{x:X(fgaVal[i]),y:rowY[i]-31,width:fgaVal[i]*1020,height:62,fill:'#fcd02f'},g);
    
    
    const e1=X(fgaVal[i]+fgaErr[i]),e2=X(fgaVal[i]-fgaErr[i]);
    mk('path',{d:`M${e1},${rowY[i]-5}v10M${e2},${rowY[i]-5}v10M${e1},${rowY[i]}H${e2}`,stroke:'#222','stroke-width':1.3},g);
  });
  txt(X(0.155),rowY[1]+2,'Ref',{'font-size':5,'font-weight':'bold',transform:`rotate(-90 ${X(0.155)} ${rowY[1]+2})`,'text-anchor':'middle'},g);
  mk('rect',{x:444,y:885,width:21,height:150,fill:'#d9d9d9',stroke:'#333','stroke-width':1},g);
  txt(454,960,'Risk',{'font-size':11,'text-anchor':'middle',transform:'rotate(90 454 960)',fill:'#222'},g);
  txt(256,958,'P<0.001',{'font-family':'Liberation Serif','font-weight':'bold','font-size':9,'text-anchor':'middle',transform:'rotate(-90 256 958)'},g);
  const xt=txt(317,1072,'FGA (Fraction of Genome Altered)',{'font-size':11,'text-anchor':'middle'},g);
  
})();

// ================= PANEL I =================
label('I',505,895);
(function(){
  const g=grp('fgg-fgl-bar-chart');
  const X=v=>703+v*847; const rowY=[927,995];
  mk('rect',{x:552,y:885,width:279,height:150,fill:'#fff',stroke:'#777','stroke-width':1.2},g);
  [-0.15,-0.1,-0.05,0,0.05,0.1,0.15].forEach(v=>{mk('line',{x1:X(v),y1:885,x2:X(v),y2:1035,stroke:'#ececec'},g);
    txt(X(v),1048,String(Math.abs(v)),{'font-size':9,'text-anchor':'middle',fill:'#333'},g);});
  rowY.forEach(y=>mk('line',{x1:552,y1:y,x2:831,y2:y,stroke:'#ececec','stroke-width':2},g));
  riskGroups.forEach((r,i)=>{
    const a=mk('rect',{x:X(-fggVal[i]),y:rowY[i]-31,width:fggVal[i]*847,height:62,fill:'#f07c7c'},g);
    
    
    const b=mk('rect',{x:X(0),y:rowY[i]-31,width:fglVal[i]*847,height:62,fill:'#78bddb'},g);
    
    
    [[-fggVal[i]],[fglVal[i]]].forEach(v=>{const e1=X(v[0]-fgErr[i]),e2=X(v[0]+fgErr[i]);
      mk('path',{d:`M${e1},${rowY[i]-5}v10M${e2},${rowY[i]-5}v10M${e1},${rowY[i]}H${e2}`,stroke:'#222','stroke-width':1.3},g);});
    const rl=txt(527,rowY[i]+4,r,{'font-size':10,'text-anchor':'end',fill:'#333'},g);
    
  });
  mk('rect',{x:552,y:885,width:22,height:150,fill:'#d9d9d9',stroke:'#333','stroke-width':1},g);
  txt(566,960,'Risk',{'font-size':11,'text-anchor':'middle',transform:'rotate(-90 566 960)',fill:'#222'},g);
  txt(592,962,'P<0.001',{'font-family':'Liberation Serif','font-weight':'bold','font-size':9,'text-anchor':'middle',transform:'rotate(-90 592 962)'},g);
  txt(792,960,'P<0.001',{'font-family':'Liberation Serif','font-weight':'bold','font-size':9,'text-anchor':'middle',transform:'rotate(90 792 960)'},g);
  txt(X(-0.1),rowY[1],'Ref',{'font-size':5,'font-weight':'bold','text-anchor':'middle',transform:`rotate(-90 ${X(-0.1)} ${rowY[1]})`},g);
  txt(X(0.072),rowY[1],'Ref',{'font-size':5,'font-weight':'bold','text-anchor':'middle',transform:`rotate(90 ${X(0.072)} ${rowY[1]})`},g);
  const xt=txt(703,1072,'FGG or FGL (Fraction of Genome Gained or lost)',{'font-size':11,'text-anchor':'middle'},g);
  
})();

// ================= BOTTOM LEGEND =================
(function(){
  const g=grp('bottom-legend');
  [[250,'#fcd02f','Copy number−altered genome'],[449,'#f07c7c','Copy number−Gained genome'],[625,'#78bddb','Copy number−lost genome']].forEach(L=>{
    mk('rect',{x:L[0],y:1083,width:19,height:26,fill:L[1]},g);
    const t=txt(L[0]+26,1101,L[2],{'font-size':10},g);
    
    
  });
})();
</script>
</body></html>
